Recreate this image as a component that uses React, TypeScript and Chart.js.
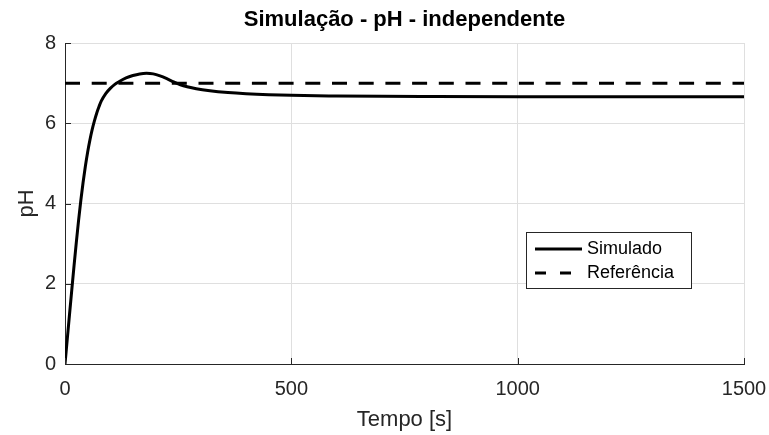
import { useEffect, useRef } from "react";
import { Chart, registerables } from "chart.js";

Chart.register(...registerables);

const FONT = '"Liberation Sans", Arial, Helvetica, sans-serif';
const AXIS_COLOR = "#262626";
const GRID_COLOR = "#dfdfdf";

const titleText = "Simulação - pH - independente";
const xLabel = "Tempo [s]";
const yLabel = "pH";
const seriesNames = ["Simulado", "Referência"];

const timeS = [0, 5, 10, 15, 20, 25, 30, 35, 40, 45, 50, 55, 60, 65, 70, 75, 80, 90, 100, 110, 120, 135, 150, 165, 180, 195, 210, 225, 240, 255, 270, 290, 320, 360, 400, 450, 500, 600, 700, 800, 1000, 1500];
const phSimulado = [0, 0.62, 1.24, 1.85, 2.45, 3.03, 3.58, 4.08, 4.53, 4.93, 5.28, 5.58, 5.84, 6.06, 6.25, 6.41, 6.55, 6.74, 6.87, 6.97, 7.04, 7.13, 7.19, 7.23, 7.245, 7.23, 7.18, 7.11, 7.03, 6.96, 6.91, 6.86, 6.81, 6.765, 6.735, 6.71, 6.695, 6.68, 6.67, 6.665, 6.66, 6.66];
const refTime = [0, 1500];
const refPh = [7, 7];

const xMin = 0;
const xMax = 1500;
const xStep = 500;
const yMin = 0;
const yMax = 8;
const yStep = 2;

const inwardTicks = {
  id: "inwardTicks",
  afterDatasetsDraw(chart: any) {
    const { ctx, chartArea } = chart;
    const xs = chart.scales.x;
    const ys = chart.scales.y;
    const len = 6;
    ctx.save();
    ctx.strokeStyle = AXIS_COLOR;
    ctx.lineWidth = 1;
    xs.ticks.forEach((t: any) => {
      const px = Math.round(xs.getPixelForValue(t.value)) + 0.5;
      ctx.beginPath();
      ctx.moveTo(px, chartArea.bottom);
      ctx.lineTo(px, chartArea.bottom - len);
      ctx.stroke();
    });
    ys.ticks.forEach((t: any) => {
      const py = Math.round(ys.getPixelForValue(t.value)) + 0.5;
      ctx.beginPath();
      ctx.moveTo(chartArea.left, py);
      ctx.lineTo(chartArea.left + len, py);
      ctx.stroke();
    });
    ctx.restore();
  },
};

const boxLegend = {
  id: "boxLegend",
  afterDraw(chart: any) {
    const { ctx, chartArea } = chart;
    const bx = chartArea.right - 218;
    const by = chartArea.top + 189;
    const bw = 165;
    const bh = 56;
    ctx.save();
    ctx.fillStyle = "#ffffff";
    ctx.fillRect(bx, by, bw, bh);
    ctx.strokeStyle = AXIS_COLOR;
    ctx.lineWidth = 1;
    ctx.strokeRect(Math.round(bx) + 0.5, Math.round(by) + 0.5, bw, bh);
    const rows = [17, 41];
    chart.data.datasets.forEach((ds: any, i: number) => {
      const cy = by + rows[i];
      ctx.strokeStyle = ds.borderColor;
      ctx.lineWidth = ds.borderWidth;
      ctx.setLineDash(ds.borderDash ? [11, 14] : []);
      ctx.beginPath();
      ctx.moveTo(bx + 9, cy);
      ctx.lineTo(bx + 56, cy);
      ctx.stroke();
      ctx.setLineDash([]);
      ctx.fillStyle = "#000000";
      ctx.font = `18px ${FONT}`;
      ctx.textAlign = "left";
      ctx.textBaseline = "middle";
      ctx.fillText(ds.label, bx + 61, cy);
    });
    ctx.restore();
  },
};

export default function App() {
  const canvasRef = useRef<HTMLCanvasElement | null>(null);

  useEffect(() => {
    if (!canvasRef.current) return;
    const chart = new Chart(canvasRef.current, {
      type: "line",
      data: {
        datasets: [
          {
            label: seriesNames[0],
            data: timeS.map((t, i) => ({ x: t, y: phSimulado[i] })),
            borderColor: "#000000",
            borderWidth: 3,
            pointRadius: 0,
            fill: false,
            cubicInterpolationMode: "monotone",
            order: 1,
          },
          {
            label: seriesNames[1],
            data: refTime.map((t, i) => ({ x: t, y: refPh[i] })),
            borderColor: "#000000",
            borderWidth: 3,
            borderDash: [15, 11.7],
            pointRadius: 0,
            fill: false,
            order: 0,
          },
        ],
      },
      options: {
        responsive: false,
        animation: false,
        devicePixelRatio: 1,
        layout: { padding: { left: 0, right: 25, top: 0, bottom: 0 } },
        plugins: {
          legend: { display: false },
          tooltip: { enabled: false },
          title: {
            display: true,
            text: titleText,
            fullSize: false,
            color: "#000000",
            font: { family: FONT, size: 22, weight: "bold" },
            padding: { top: 7, bottom: 9.6 },
          },
        },
        scales: {
          x: {
            type: "linear",
            min: xMin,
            max: xMax,
            ticks: {
              stepSize: xStep,
              color: AXIS_COLOR,
              font: { family: FONT, size: 20 },
              padding: 13.5,
              maxRotation: 0,
              callback: (v: any) => String(v),
            },
            grid: { color: GRID_COLOR, drawTicks: false, lineWidth: 1 },
            border: { display: true, color: AXIS_COLOR, width: 1 },
            title: {
              display: true,
              text: xLabel,
              color: AXIS_COLOR,
              font: { family: FONT, size: 22 },
              padding: { top: 4, bottom: 2 },
            },
            afterFit(scale: any) {
              scale.height = 71;
              scale.paddingLeft = 0;
              scale.paddingRight = 0;
            },
          },
          y: {
            type: "linear",
            min: yMin,
            max: yMax,
            ticks: {
              stepSize: yStep,
              color: AXIS_COLOR,
              font: { family: FONT, size: 20 },
              padding: 9,
              callback: (v: any) => String(v),
            },
            grid: { color: GRID_COLOR, drawTicks: false, lineWidth: 1 },
            border: { display: true, color: AXIS_COLOR, width: 1 },
            title: {
              display: true,
              text: yLabel,
              color: AXIS_COLOR,
              font: { family: FONT, size: 22 },
              padding: { top: 14, bottom: 0 },
            },
            afterFit(scale: any) {
              scale.width = 65;
              scale.paddingTop = 0;
              scale.paddingBottom = 0;
            },
          },
        },
      },
      plugins: [inwardTicks, boxLegend],
    });
    return () => chart.destroy();
  }, []);

  return (
    <canvas
      ref={canvasRef}
      width={769}
      height={435}
      style={{ position: "absolute", left: 0, top: 0, width: "769px", height: "435px", background: "#ffffff" }}
    />
  );
}
